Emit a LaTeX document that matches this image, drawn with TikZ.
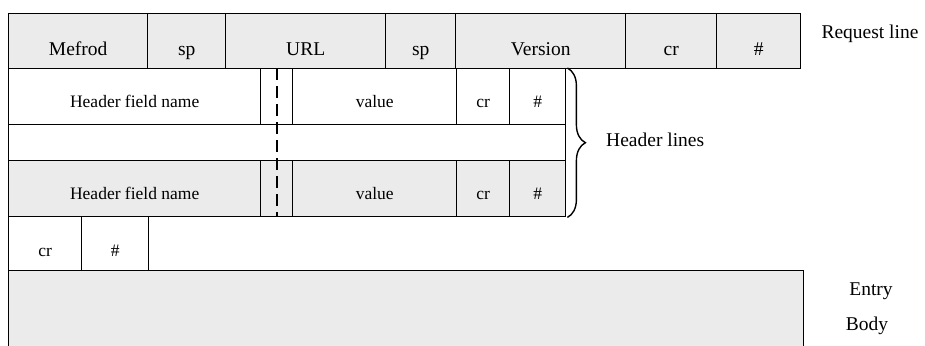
\documentclass[tikz,border=0pt]{standalone}
\usepackage{fontspec}
\setmainfont{Liberation Serif}
\usetikzlibrary{decorations.pathreplacing}
\begin{document}
\begin{tikzpicture}[x=1pt,y=-1pt,
  cell/.style={draw, line width=1.4pt, inner sep=0pt, text depth=0pt, anchor=north west},
  shaded/.style={fill=black!8},
  bigfont/.style={font=\fontsize{19.5}{21}\selectfont},
  smallfont/.style={font=\fontsize{17.5}{19}\selectfont},
  rowa/.style={cell, shaded, bigfont, minimum height=55pt, text height=28pt},
  rowb/.style={cell, smallfont, minimum height=56pt, text height=22pt},
  rowd/.style={cell, smallfont, minimum height=54pt, text height=26pt},
  lbl/.style={bigfont, anchor=base, inner sep=0pt},
  dashline/.style={line width=2.2pt, dash pattern=on 12pt off 6pt},
]
\useasboundingbox (0,0) rectangle (925,345);
% request line
\node[rowa, minimum width=139pt] (m)  at (8,13)   {Mefrod};
\node[rowa, minimum width=78pt]  (s1) at (147,13) {sp};
\node[rowa, minimum width=160pt] (u)  at (225,13) {URL};
\node[rowa, minimum width=70pt]  (s2) at (385,13) {sp};
\node[rowa, minimum width=170pt] (v)  at (455,13) {Version};
\node[rowa, minimum width=91pt]  (c1) at (625,13) {cr};
\node[rowa, minimum width=84pt]  (h1) at (716,13) {\#};
% header line 1
\node[rowb, minimum width=252pt] (n2) at (8,68)   {Header field name};
\node[rowb, minimum width=32pt]  (g2) at (260,68) {};
\node[rowb, minimum width=164pt] (v2) at (292,68) {value};
\node[rowb, minimum width=53pt]  (c2) at (456,68) {cr};
\node[rowb, minimum width=56pt]  (h2) at (509,68) {\#};
% blank
\node[cell, minimum width=557pt, minimum height=36pt] (bl) at (8,124) {};
% header line 2
\node[rowb, shaded, minimum width=252pt] (n3) at (8,160)   {Header field name};
\node[rowb, shaded, minimum width=32pt]  (g3) at (260,160) {};
\node[rowb, shaded, minimum width=164pt] (v3) at (292,160) {value};
\node[rowb, shaded, minimum width=53pt]  (c3) at (456,160) {cr};
\node[rowb, shaded, minimum width=56pt]  (h3) at (509,160) {\#};
% end of headers
\node[rowd, minimum width=73pt] (c4) at (8,216)  {cr};
\node[rowd, minimum width=67pt] (h4) at (81,216) {\#};
% body
\node[cell, shaded, minimum width=795pt, minimum height=90pt] (body) at (8,270) {};
% dashed separator
\draw[dashline] (g2.north) -- (g3.south);
% brace
\draw[decorate, decoration={brace, amplitude=18pt, aspect=0.5}, line width=1.4pt]
  ([xshift=1pt]h2.north east) -- ([xshift=1pt]h3.south east) coordinate[midway] (bt);
% labels
\node[lbl] (rl) at (870,39) {Request line};
\node[lbl, anchor=base west] (hl) at (606,146) {Header lines};
\node[lbl] (en) at (871,295) {Entry};
\node[lbl] (bo) at (867,330) {Body};
\end{tikzpicture}
\end{document}
